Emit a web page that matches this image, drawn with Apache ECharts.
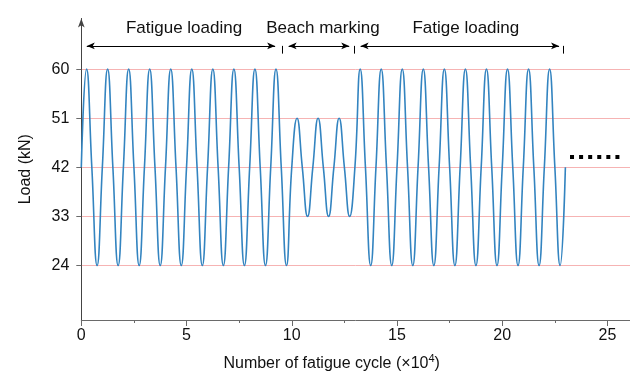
<!DOCTYPE html>
<html><head><meta charset="utf-8">
<script src="https://cdn.jsdelivr.net/npm/echarts@6/dist/echarts.min.js"></script>
<style>html,body{margin:0;padding:0;background:#fff}#c{width:630px;height:374px}</style>
</head><body><div id="c"></div>
<script>
// Number of fatigue cycles (x10^4), read at quarter-cycle points
const cycleX = [0,0.25,0.5,0.75,1,1.25,1.5,1.75,2,2.25,2.5,2.75,3,3.25,3.5,3.75,4,4.25,4.5,4.75,5,5.25,5.5,5.75,6,6.25,6.5,6.75,7,7.25,7.5,7.75,8,8.25,8.5,8.75,9,9.25,9.5,9.75,
10,10.25,10.5,10.75,11,11.25,11.5,11.75,12,12.25,12.5,12.75,13,
13.25,13.5,13.75,14,14.25,14.5,14.75,15,15.25,15.5,15.75,16,16.25,16.5,16.75,17,17.25,17.5,17.75,18,18.25,18.5,18.75,19,19.25,19.5,19.75,20,20.25,20.5,20.75,21,21.25,21.5,21.75,22,22.25,22.5,22.75,23];
// Load (kN) at those points
const loadKN = [42,60,42,24, 42,60,42,24, 42,60,42,24, 42,60,42,24, 42,60,42,24, 42,60,42,24, 42,60,42,24, 42,60,42,24, 42,60,42,24, 42,60,42,24,
42,51,42,33, 42,51,42,33, 42,51,42,33, 42,
60,42,24,42, 60,42,24,42, 60,42,24,42, 60,42,24,42, 60,42,24,42, 60,42,24,42, 60,42,24,42, 60,42,24,42, 60,42,24,42, 60,42,24,42];
const yTicks = [24,33,42,51,60];
const xTicks = [0,5,10,15,20,25];
const xMinorTicks = [2.5,7.5,12.5,17.5,22.5];
const phaseNames = ['Fatigue loading','Beach marking','Fatige loading'];
const phaseLabelX = [4.88, 11.48, 18.27];
const phaseLabelY = 67.4;
const arrowFrom = [0.26, 9.85, 13.27];
const arrowTo = [9.21, 12.73, 22.70];
const arrowY = 64.27;
const phaseBounds = [9.56, 12.99, 22.92];
const boundTickBottom = 62.85;
const dotsFrom = [23.22, 44];
const dotsTo = [25.57, 44];

const FONT = '"Liberation Sans", Arial, Helvetica, sans-serif';
const chart = echarts.init(document.getElementById('c'), null, {renderer:'canvas'});
const data = cycleX.map((x,i)=>[x, loadKN[i]]);
const lines = [];
for (let i=0;i<arrowFrom.length;i++) {
  lines.push([{coord:[arrowFrom[i], arrowY], symbol:'arrow', symbolSize:[5,8]},
              {coord:[arrowTo[i], arrowY], symbol:'arrow', symbolSize:[5,8]}]);
}
for (let i=0;i<phaseBounds.length;i++) {
  lines.push([{coord:[phaseBounds[i], arrowY], symbol:'none'},
              {coord:[phaseBounds[i], boundTickBottom], symbol:'none'}]);
}
const dotStyle = {type:[4,5.08], width:4, color:'#000', cap:'butt'};
lines.push([{coord:dotsFrom, symbol:'none', lineStyle:dotStyle},{coord:dotsTo, symbol:'none', lineStyle:dotStyle}]);

const axisColor = '#6a6a6a';
chart.setOption({
  animation:false,
  grid:{left:81.3, right:0, top:18.45, bottom:54, outerBoundsMode:'none', containLabel:false},
  xAxis:[{
    type:'value', min:0, max:26.07, position:'bottom',
    axisLine:{show:true, onZero:false, lineStyle:{color:axisColor, width:1}},
    axisTick:{show:true, customValues:xTicks, length:6, lineStyle:{color:axisColor}},
    axisLabel:{customValues:xTicks, margin:8, fontSize:16, color:'#111', fontFamily:FONT},
    splitLine:{show:false},
    name:'Number of fatigue cycle (×10{sup|4})',
    nameLocation:'middle', nameGap:33,
    nameTextStyle:{fontSize:16, color:'#111', fontFamily:FONT, padding:[0,48,0,0],
      rich:{sup:{fontSize:11, color:'#111', fontFamily:FONT, padding:[0,0,11,0]}}}
  },{
    type:'value', min:0, max:26.07, position:'bottom', gridIndex:0,
    axisLine:{show:false},
    axisTick:{show:true, customValues:xMinorTicks, length:3, lineStyle:{color:axisColor}},
    axisLabel:{show:false}, splitLine:{show:false}
  }],
  yAxis:{
    type:'value', min:14, max:69.3,
    axisLine:{show:true, onZero:false, symbol:['none','arrow'], symbolSize:[5,9], lineStyle:{color:'#444', width:1}},
    axisTick:{show:true, customValues:yTicks, length:5, lineStyle:{color:axisColor}},
    axisLabel:{customValues:yTicks, margin:12, fontSize:16, color:'#111', fontFamily:FONT},
    splitLine:{show:true, lineStyle:{color:'#f6b3b3', width:1}},
    name:'Load (kN)', nameLocation:'middle', nameGap:48,
    nameTextStyle:{fontSize:16, color:'#111', fontFamily:FONT}
  },
  series:[{
    type:'line', data:data, xAxisIndex:0, smooth:0.5, showSymbol:false, symbol:'none',
    lineStyle:{color:'#3384c0', width:1.6},
    silent:true,
    markLine:{silent:true, symbol:'none', label:{show:false},
      lineStyle:{color:'#000', width:1, type:'solid'}, emphasis:{disabled:true},
      data:lines},
    markPoint:{silent:true, symbol:'circle', symbolSize:1, itemStyle:{color:'rgba(0,0,0,0)'},
      label:{show:true, position:'inside', formatter:'{b}', fontSize:17, color:'#111', fontFamily:FONT},
      data:phaseNames.map((n,i)=>({name:n, coord:[phaseLabelX[i], phaseLabelY]}))}
  }]
});
</script></body></html>
